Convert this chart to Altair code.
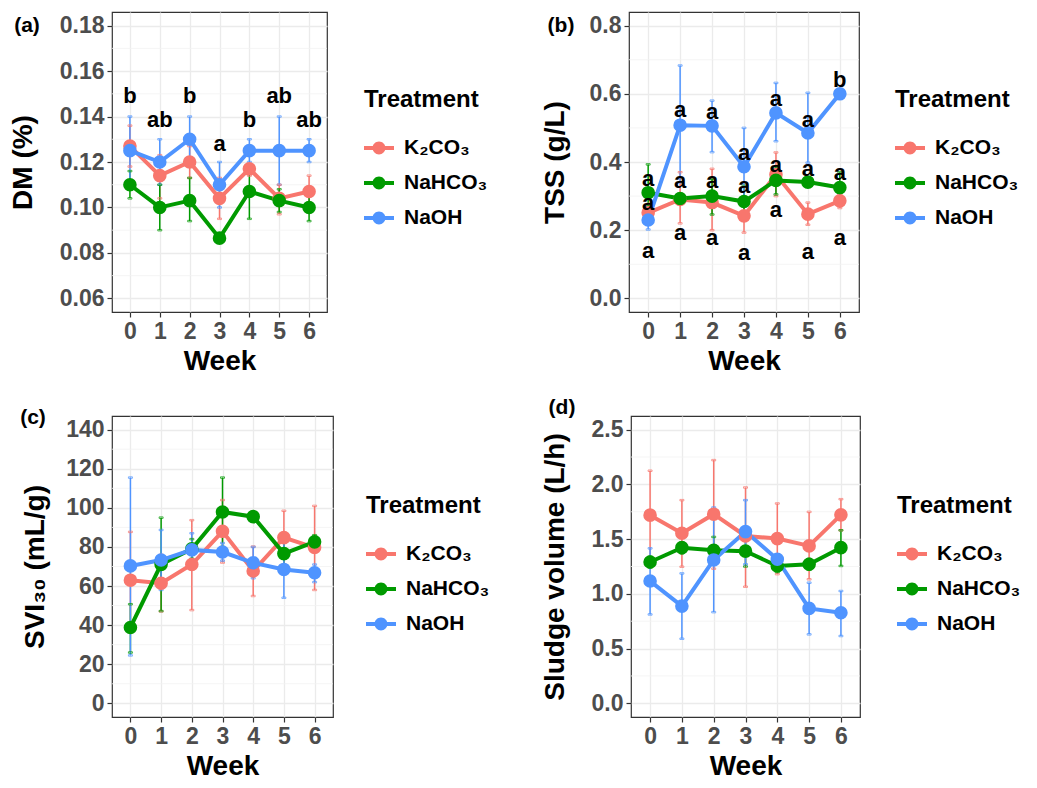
import altair as alt
import pandas as pd

weeks = [0, 1, 2, 3, 4, 5, 6]
treatments = ["K₂CO₃", "NaHCO₃", "NaOH"]
colors = ["#F8766D", "#009A00", "#4F94FF"]

# (a) DM (%)
dm_k2co3 = [0.127, 0.114, 0.120, 0.104, 0.117, 0.104, 0.107]
dm_k2co3_lo = [0.118, 0.104, 0.113, 0.095, 0.114, 0.097, 0.100]
dm_k2co3_hi = [0.136, 0.123, 0.127, 0.113, 0.119, 0.110, 0.114]
dm_nahco3 = [0.110, 0.100, 0.103, 0.0865, 0.107, 0.103, 0.100]
dm_nahco3_lo = [0.104, 0.090, 0.094, 0.0855, 0.095, 0.098, 0.094]
dm_nahco3_hi = [0.116, 0.110, 0.113, 0.0875, 0.119, 0.108, 0.106]
dm_naoh = [0.125, 0.120, 0.130, 0.110, 0.125, 0.125, 0.125]
dm_naoh_lo = [0.110, 0.110, 0.120, 0.100, 0.120, 0.110, 0.120]
dm_naoh_hi = [0.140, 0.130, 0.140, 0.120, 0.130, 0.140, 0.130]
dm_letters = ["b", "ab", "b", "a", "b", "ab", "ab"]
dm_letters_y = [0.149, 0.1386, 0.149, 0.128, 0.1386, 0.149, 0.1386]

# (b) TSS (g/L)
tss_k2co3 = [0.251, 0.290, 0.281, 0.242, 0.363, 0.247, 0.286]
tss_k2co3_lo = [0.225, 0.220, 0.200, 0.193, 0.300, 0.216, 0.265]
tss_k2co3_hi = [0.277, 0.370, 0.380, 0.290, 0.428, 0.281, 0.305]
tss_nahco3 = [0.310, 0.293, 0.300, 0.284, 0.346, 0.341, 0.325]
tss_nahco3_lo = [0.270, 0.280, 0.246, 0.235, 0.305, 0.330, 0.281]
tss_nahco3_hi = [0.393, 0.305, 0.350, 0.330, 0.385, 0.352, 0.370]
tss_naoh = [0.230, 0.508, 0.506, 0.386, 0.544, 0.485, 0.600]
tss_naoh_lo = [0.202, 0.340, 0.429, 0.270, 0.461, 0.398, 0.590]
tss_naoh_hi = [0.260, 0.683, 0.580, 0.500, 0.632, 0.603, 0.610]
tss_letters_1 = ["a", "a", "a", "a", "a", "a", "b"]
tss_letters_1_y = [0.349, 0.553, 0.547, 0.427, 0.585, 0.524, 0.641]
tss_letters_2 = ["a", "a", "a", "a", "a", "a", "a"]
tss_letters_2_y = [0.279, 0.344, 0.344, 0.329, 0.391, 0.380, 0.368]
tss_letters_3 = ["a", "a", "a", "a", "a", "a", "a"]
tss_letters_3_y = [0.139, 0.193, 0.178, 0.134, 0.259, 0.137, 0.178]

# (c) SVI30 (mL/g)
svi_k2co3 = [63.0, 61.4, 71.0, 88.0, 67.7, 84.8, 79.7]
svi_k2co3_lo = [39.0, 47.0, 47.7, 72.0, 54.9, 71.0, 58.0]
svi_k2co3_hi = [87.7, 76.0, 93.7, 104.0, 80.2, 98.5, 101.0]
svi_nahco3 = [38.8, 71.1, 79.0, 97.9, 95.5, 76.6, 82.6]
svi_nahco3_lo = [26.0, 47.2, 74.0, 80.0, 93.0, 67.0, 79.0]
svi_nahco3_hi = [50.7, 95.0, 84.0, 115.5, 98.0, 86.0, 86.0]
svi_naoh = [70.3, 73.3, 78.5, 77.4, 71.9, 68.5, 66.8]
svi_naoh_lo = [24.5, 58.0, 70.0, 73.0, 64.0, 54.0, 62.0]
svi_naoh_hi = [115.5, 88.7, 87.0, 82.0, 80.0, 84.0, 71.0]

# (d) Sludge volume (L/h)
sv_k2co3 = [1.719, 1.554, 1.728, 1.529, 1.505, 1.438, 1.722]
sv_k2co3_lo = [1.310, 1.248, 1.230, 1.065, 1.180, 1.133, 1.580]
sv_k2co3_hi = [2.125, 1.856, 2.222, 1.972, 1.826, 1.749, 1.865]
sv_nahco3 = [1.291, 1.422, 1.398, 1.390, 1.255, 1.270, 1.422]
sv_nahco3_lo = [1.240, 1.370, 1.270, 1.250, 1.200, 1.220, 1.255]
sv_nahco3_hi = [1.340, 1.470, 1.520, 1.530, 1.300, 1.320, 1.581]
sv_naoh = [1.117, 0.888, 1.310, 1.569, 1.316, 0.867, 0.827]
sv_naoh_lo = [0.812, 0.590, 0.833, 1.270, 1.280, 0.630, 0.615]
sv_naoh_hi = [1.416, 1.187, 1.789, 1.856, 1.360, 1.102, 1.026]

FONT = "Liberation Sans"
LEGEND_SYMBOL = ("M -1 -0.13 L 1 -0.13 L 1 0.13 L -1 0.13 Z "
                 "M 0.43 0 A 0.43 0.43 0 1 1 -0.43 0 A 0.43 0.43 0 1 1 0.43 0 Z")


def long_df(means, los, his):
    rows = []
    for t, m, l, h in zip(treatments, means, los, his):
        for w, mv, lv, hv in zip(weeks, m, l, h):
            rows.append({"Week": w, "Treatment": t, "grp": t, "value": mv, "lo": lv, "hi": hv})
    return pd.DataFrame(rows)


def letters_df(groups):
    rows = []
    for labs, ys in groups:
        for w, lab, yv in zip(weeks, labs, ys):
            rows.append({"Week": w, "value": yv, "lab": lab})
    return pd.DataFrame(rows)


def panel(df, ldf, ytitle, ymin, ymax, ystep, fmt, label, label_xy, width, height, legend_xy, tpad):
    span = ymax - ymin
    dom = [ymin - 0.05 * span, ymax + 0.05 * span]
    n = int(round(span / ystep))
    majors = [round(ymin + i * ystep, 6) for i in range(n + 1)]
    minors = [round(ymin + (i + 0.5) * ystep, 6) for i in range(n)]
    yscale = alt.Scale(domain=dom, nice=False, zero=False)
    yaxis = alt.Axis(values=majors, title=ytitle, format=fmt, titlePadding=tpad)
    xenc = alt.X("Week:Q", scale=alt.Scale(domain=[-0.6, 6.6], nice=False, zero=False),
                 axis=alt.Axis(values=weeks, title="Week", format="d"))

    def Y(field):
        return alt.Y(field, scale=yscale, axis=yaxis)

    # stroke scale: data-driven domain (sorted names = same order as treatments), no legend
    stroke_enc = alt.Stroke("grp:N", scale=alt.Scale(range=colors), legend=None)
    col_legend = alt.Color(
        "Treatment:N",
        scale=alt.Scale(domain=treatments, range=colors),
        legend=alt.Legend(
            title="Treatment", orient="none", legendX=legend_xy[0], legendY=legend_xy[1],
            symbolType=LEGEND_SYMBOL, symbolSize=900, symbolStrokeWidth=0, symbolOpacity=1,
            titleFont=FONT, titleFontSize=24, titleFontWeight="bold", titleColor="black",
            titlePadding=21, labelFont=FONT, labelFontSize=21, labelFontWeight="bold",
            labelColor="black", labelOffset=10, rowPadding=10,
        ),
    )

    minor = alt.Chart(pd.DataFrame({"value": minors})).mark_rule(
        color="#F2F2F2", strokeWidth=0.8).encode(y=Y("value:Q"))
    base = alt.Chart(df)
    err = base.mark_rule(strokeWidth=1.5).encode(x=xenc, y=Y("lo:Q"), y2="hi:Q", stroke=stroke_enc)
    cap_lo = base.mark_tick(orient="horizontal", size=4, thickness=1.5, filled=False).encode(
        x=xenc, y=Y("lo:Q"), stroke=stroke_enc)
    cap_hi = base.mark_tick(orient="horizontal", size=4, thickness=1.5, filled=False).encode(
        x=xenc, y=Y("hi:Q"), stroke=stroke_enc)
    line = base.mark_line(strokeWidth=4).encode(x=xenc, y=Y("value:Q"), stroke=stroke_enc)
    pts = base.mark_circle(size=185, opacity=1).encode(x=xenc, y=Y("value:Q"), color=col_legend)
    layers = [minor, err, cap_lo, cap_hi, line, pts]
    if ldf is not None:
        txt = alt.Chart(ldf).mark_text(font=FONT, fontSize=22, fontWeight="bold", color="black").encode(
            x=xenc, y=Y("value:Q"), text="lab:N")
        layers.append(txt)
    lab = alt.Chart(pd.DataFrame({"t": [label]})).mark_text(
        font=FONT, fontSize=21, fontWeight="bold", color="black", align="center", baseline="middle"
    ).encode(x=alt.value(label_xy[0]), y=alt.value(label_xy[1]), text="t:N")
    layers.append(lab)
    return alt.layer(*layers).properties(width=width, height=height)


pa = panel(long_df([dm_k2co3, dm_nahco3, dm_naoh], [dm_k2co3_lo, dm_nahco3_lo, dm_naoh_lo],
                   [dm_k2co3_hi, dm_nahco3_hi, dm_naoh_hi]),
           letters_df([(dm_letters, dm_letters_y)]),
           "DM (%)", 0.06, 0.18, 0.02, ".2f", "(a)", (-85, 14), 215, 300, (252, 76), 22)
pb = panel(long_df([tss_k2co3, tss_nahco3, tss_naoh], [tss_k2co3_lo, tss_nahco3_lo, tss_naoh_lo],
                   [tss_k2co3_hi, tss_nahco3_hi, tss_naoh_hi]),
           letters_df([(tss_letters_1, tss_letters_1_y), (tss_letters_2, tss_letters_2_y),
                       (tss_letters_3, tss_letters_3_y)]),
           "TSS (g/L)", 0.0, 0.8, 0.2, ".1f", "(b)", (-68, 14), 230, 300, (266, 76), 20)
pc = panel(long_df([svi_k2co3, svi_nahco3, svi_naoh], [svi_k2co3_lo, svi_nahco3_lo, svi_naoh_lo],
                   [svi_k2co3_hi, svi_nahco3_hi, svi_naoh_hi]),
           None, "SVI₃₀ (mL/g)", 0, 140, 20, "d", "(c)", (-79, 2), 221, 301, (254, 78), 16)
pd_ = panel(long_df([sv_k2co3, sv_nahco3, sv_naoh], [sv_k2co3_lo, sv_nahco3_lo, sv_naoh_lo],
                    [sv_k2co3_hi, sv_nahco3_hi, sv_naoh_hi]),
            None, "Sludge volume (L/h)", 0.0, 2.5, 0.5, ".1f", "(d)", (-69, -8), 229, 301, (266, 78), 22)

row1 = alt.hconcat(pa, pb, spacing=51).resolve_scale(
    x="independent", y="independent", color="independent", stroke="independent")
row2 = alt.hconcat(pc, pd_, spacing=49).resolve_scale(
    x="independent", y="independent", color="independent", stroke="independent")
chart = alt.vconcat(row1, row2, spacing=20).resolve_scale(
    x="independent", y="independent", color="independent", stroke="independent"
).configure(padding={"left": 0, "top": 3, "right": 0, "bottom": 0}, background="white").configure_view(
    stroke="#333333", strokeWidth=1.2
).configure_axis(
    labelFont=FONT, labelFontSize=23, labelFontWeight="bold", labelColor="#4D4D4D",
    titleFont=FONT, titleFontSize=28, titleFontWeight="bold", titleColor="black",
    tickColor="#333333", tickSize=5, tickWidth=1.2, domain=False,
    grid=True, gridColor="#EBEBEB", gridWidth=1.3, labelPadding=3,
)

chart.save("out.html", embed_options={"renderer": "svg", "actions": False})
